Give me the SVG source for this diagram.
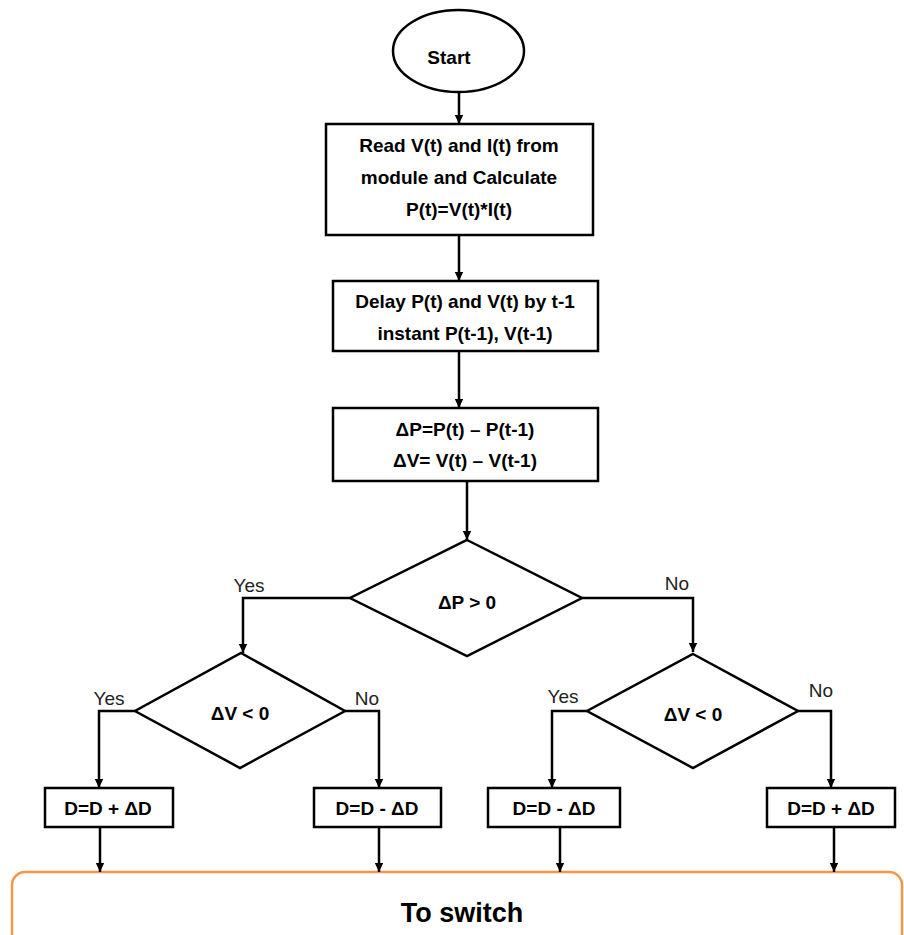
<svg xmlns="http://www.w3.org/2000/svg" width="904" height="935" viewBox="0 0 904 935">
<style>
.shape{fill:#fff;stroke:#000;stroke-width:2.5}
.t{font-family:"Liberation Sans",Arial,sans-serif;font-weight:bold;font-size:19px;fill:#000;text-anchor:middle}
.lbl{font-family:"Liberation Sans",Arial,sans-serif;font-size:19px;fill:#222;text-anchor:middle}
.c{fill:none;stroke:#000;stroke-width:2.5}
.out{fill:#fff;stroke:#F79646;stroke-width:2.5}
</style>
<defs>
<marker id="ah" markerUnits="userSpaceOnUse" markerWidth="10" markerHeight="10" refX="9" refY="5" orient="auto">
<path d="M0,0.8 L9,5 L0,9.2 z" fill="#000"/>
</marker>
</defs>
<rect width="904" height="935" fill="#fff"/>
<g id="output">
<rect class="out" x="12" y="872" width="890" height="90" rx="13" ry="13"/>
<text x="462" y="922" style="font-family:'Liberation Sans',Arial,sans-serif;font-weight:bold;font-size:27px;fill:#000;text-anchor:middle">To switch</text>
</g>
<g id="connectors">
<line class="c" x1="459" y1="92" x2="459" y2="124" marker-end="url(#ah)"/>
<line class="c" x1="459" y1="235" x2="459" y2="281" marker-end="url(#ah)"/>
<line class="c" x1="459" y1="351" x2="459" y2="408" marker-end="url(#ah)"/>
<line class="c" x1="467" y1="481" x2="467" y2="540" marker-end="url(#ah)"/>
<polyline class="c" points="350,598 243,598 243,653" marker-end="url(#ah)"/>
<polyline class="c" points="582,598 693,598 693,652" marker-end="url(#ah)"/>
<polyline class="c" points="135,711 99,711 99,788" marker-end="url(#ah)"/>
<polyline class="c" points="345,711 379,711 379,788" marker-end="url(#ah)"/>
<polyline class="c" points="587,711 552,711 552,788" marker-end="url(#ah)"/>
<polyline class="c" points="798,711 831,711 831,788" marker-end="url(#ah)"/>
<line class="c" x1="100" y1="827" x2="100" y2="872" marker-end="url(#ah)"/>
<line class="c" x1="379" y1="827" x2="379" y2="872" marker-end="url(#ah)"/>
<line class="c" x1="560" y1="827" x2="560" y2="872" marker-end="url(#ah)"/>
<line class="c" x1="834" y1="827" x2="834" y2="872" marker-end="url(#ah)"/>
<text class="lbl" x="249" y="592">Yes</text>
<text class="lbl" x="677" y="590">No</text>
<text class="lbl" x="109" y="705">Yes</text>
<text class="lbl" x="367" y="705">No</text>
<text class="lbl" x="563" y="703">Yes</text>
<text class="lbl" x="821" y="697">No</text>
</g>
<g id="start">
<ellipse class="shape" cx="458.5" cy="51" rx="65.5" ry="41"/>
<text class="t" x="449" y="64">Start</text>
</g>
<g id="read">
<rect class="shape" x="326" y="124" width="267" height="111"/>
<text class="t" x="459" y="152">Read V(t) and I(t) from</text>
<text class="t" x="459" y="184">module and Calculate</text>
<text class="t" x="459" y="216">P(t)=V(t)*I(t)</text>
</g>
<g id="delay">
<rect class="shape" x="333" y="281" width="265" height="70"/>
<text class="t" x="465" y="308">Delay P(t) and V(t) by t-1</text>
<text class="t" x="465" y="340">instant P(t-1), V(t-1)</text>
</g>
<g id="diff">
<rect class="shape" x="333" y="408" width="265" height="73"/>
<text class="t" x="465" y="436">ΔP=P(t) – P(t-1)</text>
<text class="t" x="465" y="467">ΔV= V(t) – V(t-1)</text>
</g>
<g id="dP">
<polygon class="shape" points="467,540 582,598 467,656 350,598"/>
<text class="t" x="467" y="609">ΔP &gt; 0</text>
</g>
<g id="dV1">
<polygon class="shape" points="241,653 345,711 240,768 135,711"/>
<text class="t" x="240" y="720">ΔV &lt; 0</text>
</g>
<g id="dV2">
<polygon class="shape" points="693,654 798,711 693,768 587,711"/>
<text class="t" x="693" y="721">ΔV &lt; 0</text>
</g>
<g id="inc1">
<rect class="shape" x="45" y="788" width="128" height="39"/>
<text class="t" x="108" y="815">D=D + ΔD</text>
</g>
<g id="dec1">
<rect class="shape" x="314" y="788" width="127" height="39"/>
<text class="t" x="377" y="815">D=D - ΔD</text>
</g>
<g id="dec2">
<rect class="shape" x="488" y="788" width="132" height="39"/>
<text class="t" x="554" y="815">D=D - ΔD</text>
</g>
<g id="inc2">
<rect class="shape" x="767" y="788" width="128" height="39"/>
<text class="t" x="831" y="815">D=D + ΔD</text>
</g>
</svg>
